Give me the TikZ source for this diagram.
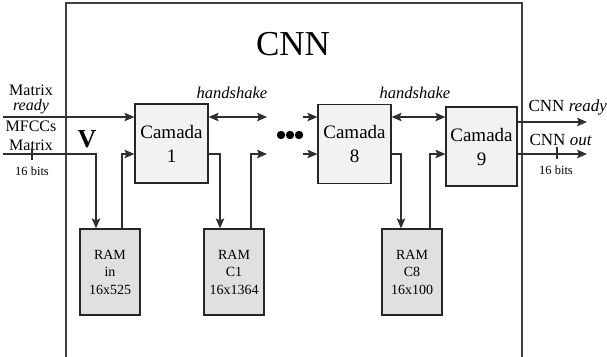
\documentclass[tikz,border=0pt]{standalone}
\usepackage{fontspec}
\setmainfont{Liberation Serif}
\usetikzlibrary{arrows.meta}
\begin{document}
\begin{tikzpicture}[x=1pt,y=-1pt,
 line width=1.2pt,
 tip/.tip={Stealth[length=10pt,width=8.5pt,inset=2pt]},
 arr/.style={-tip, draw=black!82},
 darr/.style={tip-tip, draw=black!82},
 conn/.style={draw=black!82},
 camada/.style={draw=black!85, fill=black!5, line width=1.2pt, minimum width=73pt, minimum height=79pt, inner sep=0pt, font=\fontsize{19}{24}\selectfont, align=center},
 ram/.style={draw=black!85, fill=black!12, line width=1.2pt, minimum width=60pt, minimum height=86pt, inner sep=0pt, font=\fontsize{14}{17.5}\selectfont, align=center},
 lbl/.style={inner sep=0pt, font=\fontsize{16}{18}\selectfont},
 small/.style={inner sep=0pt, font=\fontsize{12.5}{14}\selectfont}
]
\useasboundingbox (0,0) rectangle (607,356);
\draw[black!75, line width=1.2pt] (66,365) -- (66,3) -- (522,3) -- (522,365);
\node[inner sep=0pt, font=\fontsize{35}{40}\selectfont] (title) at (293,44) {CNN};

\node[camada] (c1) at (171.5,143.5) {Camada\\1};
\node[camada] (c8) at (354.5,144) {Camada\\8};
\node[camada, minimum width=71pt] (c9) at (481.5,146.5) {Camada\\9};

\node[ram] (rin) at (110,272) {RAM\\in\\16x525};
\node[ram] (rc1) at (234,272) {RAM\\C1\\16x1364};
\node[ram] (rc8) at (412,272) {RAM\\C8\\16x100};

\node[lbl] (l1) at (31,90) {Matrix};
\node[lbl] (l2) at (31,107) {\itshape ready};
\node[lbl] (l3) at (31,126) {MFCCs};
\node[lbl] (l4) at (31,145) {Matrix};
\node[small] (b1) at (32,171) {16 bits};
\node[inner sep=0pt, font=\bfseries\fontsize{26}{28}\selectfont] (v) at (87,139) {V};

\node[lbl, font=\itshape\fontsize{16.5}{18}\selectfont] (hs1) at (232,93) {handshake};
\node[lbl, font=\itshape\fontsize{16.5}{18}\selectfont] (hs2) at (415,93) {handshake};

\node[lbl, anchor=west, font=\fontsize{17}{19}\selectfont] (ro) at (528,107) {CNN \textit{ready}};
\node[lbl, anchor=west, font=\fontsize{17}{19}\selectfont] (oo) at (529,140) {CNN \textit{out}};
\node[small] (b2) at (556,170) {16 bits};

\coordinate (inA) at (3,117);
\coordinate (inB) at (3,154);
\coordinate (yl) at (0,154);
\coordinate (h1) at (267,117);
\coordinate (g1) at (267,154);
\coordinate (s8a) at (303,117);
\coordinate (s8b) at (303,154);
\coordinate (oa) at (587,122);
\coordinate (ob) at (587,154);

\draw[arr] (inA) -- (inA -| c1.west);
\draw[arr] (inB) -| ([xshift=-14pt]rin.north);
\draw[conn] (32,148) -- (32,160);
\draw[arr] ([xshift=12pt]rin.north) |- (c1.west |- yl);

\draw[darr] (c1.east |- h1) -- (h1);
\draw[arr] (c1.east |- yl) -| ([xshift=-14pt]rc1.north);
\draw[arr] ([xshift=17pt]rc1.north) |- (g1);

\fill[black] (281,135) circle (4.2) (290,135) circle (4.2) (299,135) circle (4.2);

\draw[arr] (s8a) -- (s8a -| c8.west);
\draw[arr] (s8b) -- (s8b -| c8.west);
\draw[arr] (c8.east |- yl) -| ([xshift=-11pt]rc8.north);
\draw[arr] ([xshift=18pt]rc8.north) |- (c9.west |- yl);
\draw[darr] (c8.east |- h1) -- (c9.west |- h1);

\draw[arr] (c9.east |- oa) -- (oa);
\draw[arr] (c9.east |- ob) -- (ob);
\draw[conn] (557,147) -- (557,159);
\end{tikzpicture}
\end{document}
